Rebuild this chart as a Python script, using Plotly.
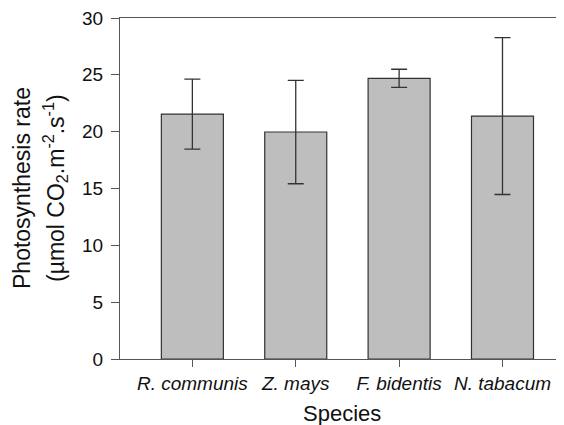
import plotly.graph_objects as go

species = ["R. communis", "Z. mays", "F. bidentis", "N. tabacum"]
rates = [21.55, 19.97, 24.69, 21.37]
errors = [3.08, 4.55, 0.80, 6.90]
y_ticks = [0, 5, 10, 15, 20, 25, 30]

fig = go.Figure()
fig.add_trace(go.Bar(
    x=list(range(len(species))),
    y=rates,
    width=0.6,
    marker=dict(color="#bebebe", line=dict(color="#333333", width=1.2)),
    error_y=dict(type="data", array=errors, visible=True, color="#333333", thickness=1.3, width=8),
    showlegend=False,
))

font_family = "Liberation Sans, Arial, sans-serif"
# The page body has an 8px margin, so the figure is drawn 8px in and down.
FW, FH = 556, 417
L, T, B = 112, 10, 66
W = FW - L
H = FH - T - B

def px(x):
    return (x - L) / W

def py(y):
    return (FH - B - y) / H

fig.update_layout(
    width=FW, height=FH,
    margin=dict(l=L, r=0, t=T, b=B, autoexpand=False),
    paper_bgcolor="white", plot_bgcolor="white",
    font=dict(family=font_family, color="#111111"),
    xaxis=dict(
        range=[-0.7, 3.595],
        tickmode="array",
        tickvals=list(range(len(species))),
        ticktext=["<i>" + s + "</i>" for s in species],
        ticks="outside", ticklen=7, tickcolor="#555555", tickwidth=1.3,
        showline=True, linecolor="#555555", linewidth=1.3, mirror=True,
        showgrid=False, zeroline=False, automargin=False,
        tickfont=dict(size=19), ticklabelstandoff=0, ticklabeloverflow="allow",
    ),
    yaxis=dict(
        range=[0, 30],
        tickmode="array", tickvals=y_ticks,
        ticks="outside", ticklen=8, tickcolor="#555555", tickwidth=1.3,
        showline=True, linecolor="#555555", linewidth=1.3,
        showgrid=False, zeroline=False, automargin=False,
        tickfont=dict(size=19), ticklabelstandoff=4, ticklabeloverflow="allow",
    ),
    annotations=[
        dict(text="Species", x=px(334), y=py(405), xref="paper", yref="paper",
             showarrow=False, font=dict(size=22), xanchor="center", yanchor="middle"),
        dict(text="Photosynthesis rate", x=px(14), y=py(180), xref="paper", yref="paper",
             showarrow=False, font=dict(size=23), textangle=-90,
             xanchor="center", yanchor="middle"),
        dict(text="(µmol CO<sub>2</sub>.m<sup>-2</sup>.s<sup>-1</sup>)", x=px(47), y=py(180),
             xref="paper", yref="paper",
             showarrow=False, font=dict(size=23), textangle=-90,
             xanchor="center", yanchor="middle"),
    ],
)

fig.write_html("out.html")
